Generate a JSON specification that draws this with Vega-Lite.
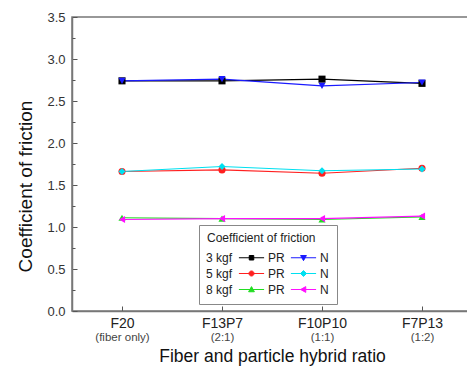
{
  "$schema": "https://vega.github.io/schema/vega-lite/v6.json",
  "width": 400,
  "height": 294,
  "autosize": "none",
  "padding": {"left": 72, "top": 17, "right": 0, "bottom": 63},
  "background": "white",
  "config": {
    "view": {"stroke": "#777", "strokeWidth": 1.5},
    "font": "Liberation Sans",
    "axis": {"labelFont": "Liberation Sans", "titleFont": "Liberation Sans", "domainColor": "#777", "domainWidth": 1.5, "tickColor": "#555", "grid": false}
  },
  "data": {
    "values": [
      {"ratio": "F20", "series": "3PR", "cof": 2.74},
      {"ratio": "F13P7", "series": "3PR", "cof": 2.74},
      {"ratio": "F10P10", "series": "3PR", "cof": 2.76},
      {"ratio": "F7P13", "series": "3PR", "cof": 2.71},
      {"ratio": "F20", "series": "3N", "cof": 2.74},
      {"ratio": "F13P7", "series": "3N", "cof": 2.76},
      {"ratio": "F10P10", "series": "3N", "cof": 2.68},
      {"ratio": "F7P13", "series": "3N", "cof": 2.72},
      {"ratio": "F20", "series": "5PR", "cof": 1.66},
      {"ratio": "F13P7", "series": "5PR", "cof": 1.68},
      {"ratio": "F10P10", "series": "5PR", "cof": 1.64},
      {"ratio": "F7P13", "series": "5PR", "cof": 1.7},
      {"ratio": "F20", "series": "5N", "cof": 1.66},
      {"ratio": "F13P7", "series": "5N", "cof": 1.72},
      {"ratio": "F10P10", "series": "5N", "cof": 1.67},
      {"ratio": "F7P13", "series": "5N", "cof": 1.69},
      {"ratio": "F20", "series": "8PR", "cof": 1.11},
      {"ratio": "F13P7", "series": "8PR", "cof": 1.1},
      {"ratio": "F10P10", "series": "8PR", "cof": 1.09},
      {"ratio": "F7P13", "series": "8PR", "cof": 1.12},
      {"ratio": "F20", "series": "8N", "cof": 1.09},
      {"ratio": "F13P7", "series": "8N", "cof": 1.1},
      {"ratio": "F10P10", "series": "8N", "cof": 1.1},
      {"ratio": "F7P13", "series": "8N", "cof": 1.13}
    ]
  },
  "resolve": {"axis": {"x": "independent", "y": "independent"}},
  "layer": [
    {
      "mark": {"type": "line", "strokeWidth": 1.1},
      "encoding": {
        "x": {
          "field": "ratio", "type": "ordinal", "sort": ["F20", "F13P7", "F10P10", "F7P13"],
          "scale": {"type": "point", "padding": 0.5},
          "axis": {"orient": "bottom", "labelAngle": 0, "tickSize": -5, "labelPadding": 10, "labelFontSize": 14, "labelColor": "#222",
            "title": "Fiber and particle hybrid ratio", "titleFontSize": 17.5, "titleFontWeight": "normal", "titleColor": "#111", "titleBaseline": "alphabetic", "titleY": 50}
        },
        "y": {
          "field": "cof", "type": "quantitative",
          "scale": {"domain": [0, 3.5], "nice": false, "zero": false},
          "axis": {"orient": "left", "values": [0, 0.5, 1, 1.5, 2, 2.5, 3, 3.5], "format": ".1f", "tickSize": -5, "labelPadding": 12, "labelFontSize": 13, "labelColor": "#333",
            "title": "Coefficient of friction", "titleFontSize": 19, "titleFontWeight": "normal", "titleColor": "#111", "titleAngle": -90, "titleAlign": "center", "titleBaseline": "alphabetic", "titleX": -41, "titleY": 169}
        },
        "color": {
          "field": "series", "type": "nominal",
          "scale": {"domain": ["3kg", "5kg", "8kg", "3PR", "5PR", "8PR", "3N", "5N", "8N"], "range": ["white", "white", "white", "#000000", "#ff2020", "#22dd22", "#1a1aff", "#00e0f0", "#ff10ff"]},
          "legend": {
            "orient": "none", "legendX": 127, "legendY": 208, "columns": 3,
            "title": "Coefficient of friction", "titleFontSize": 12, "titleFont": "Liberation Sans", "titleFontWeight": "normal", "titleColor": "#222", "titlePadding": 3,
            "labelFontSize": 12, "labelFont": "Liberation Sans", "labelColor": "#222",
            "symbolSize": 324, "labelOffset": 7, "rowPadding": 0, "columnPadding": 3,
            "padding": 8, "strokeColor": "#888", "fillColor": "white",
            "labelExpr": "indexof(datum.value,'kg')>=0 ? substring(datum.value,0,1) + ' kgf' : (indexof(datum.value,'PR')>=0 ? 'PR' : 'N')",
            "encode": {
              "symbols": {"update": {
                "shape": {"signal": "datum.value=='3PR' ? 'M-1.4,0H1.4M-0.25,-0.25H0.25V0.25H-0.25Z' : datum.value=='3N' ? 'M-1.4,0H1.4M-0.32,-0.25H0.32L0,0.32Z' : datum.value=='5PR' ? 'M-1.4,0H1.4M0.28,0A0.28,0.28 0 1,1 -0.28,0A0.28,0.28 0 1,1 0.28,0Z' : datum.value=='5N' ? 'M-1.4,0H1.4M0,-0.33L0.33,0L0,0.33L-0.33,0Z' : datum.value=='8PR' ? 'M-1.4,0H1.4M0,-0.32L0.32,0.25H-0.32Z' : datum.value=='8N' ? 'M-1.4,0H1.4M-0.32,0L0.25,-0.32V0.32Z' : 'M0,0'"},
                "fill": {"scale": "color", "field": "value"},
                "stroke": {"scale": "color", "field": "value"},
                "strokeWidth": {"value": 1},
                "opacity": {"signal": "indexof(datum.value,'kg')>=0 ? 0 : 1"}
              }},
              "labels": {"update": {"dx": {"signal": "indexof(datum.value,'kg')>=0 ? -27 : 0"}}}
            }
          }
        }
      }
    },
    {
      "mark": {"type": "point", "filled": true, "size": 50, "opacity": 1},
      "encoding": {
        "x": {
          "field": "ratio", "type": "ordinal", "sort": ["F20", "F13P7", "F10P10", "F7P13"],
          "scale": {"type": "point", "padding": 0.5},
          "axis": {"orient": "bottom", "labelAngle": 0, "ticks": false, "domain": false, "labelPadding": 20, "labelFontSize": 11.5, "labelColor": "#444", "title": null,
            "labelExpr": "datum.value == 'F20' ? '(fiber only)' : datum.value == 'F13P7' ? '(2:1)' : datum.value == 'F10P10' ? '(1:1)' : '(1:2)'"}
        },
        "y": {
          "field": "cof", "type": "quantitative",
          "scale": {"domain": [0, 3.5], "nice": false, "zero": false},
          "axis": {"orient": "left", "values": [0.25, 0.75, 1.25, 1.75, 2.25, 2.75, 3.25], "tickSize": -3, "labels": false, "domain": false, "title": null}
        },
        "color": {
          "field": "series", "type": "nominal",
          "scale": {"domain": ["3kg", "5kg", "8kg", "3PR", "5PR", "8PR", "3N", "5N", "8N"], "range": ["white", "white", "white", "#000000", "#ff2020", "#22dd22", "#1a1aff", "#00e0f0", "#ff10ff"]}
        },
        "shape": {
          "field": "series", "type": "nominal",
          "scale": {"domain": ["3PR", "3N", "5PR", "5N", "8PR", "8N"], "range": ["square", "triangle-down", "circle", "diamond", "triangle-up", "triangle-left"]},
          "legend": null
        }
      }
    }
  ]
}
